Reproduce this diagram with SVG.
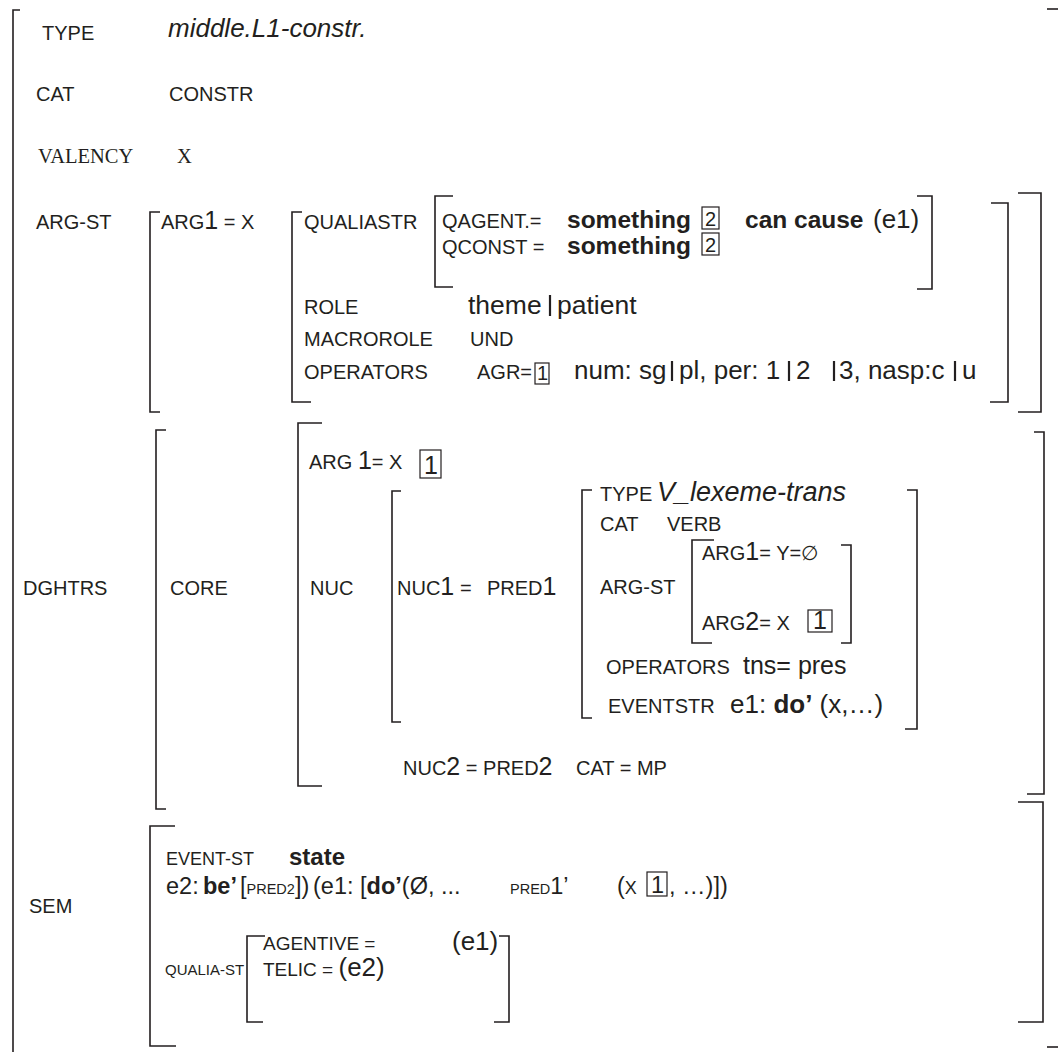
<svg xmlns="http://www.w3.org/2000/svg" width="1061" height="1052" viewBox="0 0 1061 1052">
<style>
text { font-family: "Liberation Sans", Arial, sans-serif; font-size: 20px; fill: #231f20; }
.serif { font-family: "Liberation Serif", "Times New Roman", serif; font-size: 20.5px; }
.i { font-style: italic; font-size: 26px; }
.b { font-weight: bold; font-size: 24.5px; }
.m { font-size: 25px; }
.l { font-size: 26px; }
.xl { font-size: 26.5px; }
.s { font-size: 18px; }
.sc { font-size: 14.5px; }
.e { font-size: 23.5px; }
.q { font-size: 19px; }
.br { fill: none; stroke: #231f20; stroke-width: 1.6; }
.bar { stroke: #231f20; stroke-width: 2.2; }
.box { fill: none; stroke: #231f20; stroke-width: 1.2; }
</style>
<rect width="1061" height="1052" fill="#ffffff"/>

<g id="brackets">
  <path class="br" d="M20,10 H13 V1052"/>
  <path class="br" d="M1047,9 H1058"/>
  <path class="br" d="M1047,1047 H1058"/>
  <path class="br" d="M160,212 H150 V412 H160"/>
  <path class="br" d="M1018,193 H1041 V412 H1018"/>
  <path class="br" d="M302,212 H292 V402 H311"/>
  <path class="br" d="M991,203 H1008 V402 H990"/>
  <path class="br" d="M453,196 H435 V287 H453"/>
  <path class="br" d="M917,196 H932 V289 H917"/>
  <path class="br" d="M166,430 H156 V809 H166"/>
  <path class="br" d="M1034,432 H1044 V794 H1027"/>
  <path class="br" d="M322,423 H298 V786 H322"/>
  <path class="br" d="M401,491 H392 V722 H401"/>
  <path class="br" d="M592,490 H582 V718 H592"/>
  <path class="br" d="M907,490 H917 V729 H905"/>
  <path class="br" d="M714,540 H692 V643 H712"/>
  <path class="br" d="M841,545 H851 V643 H841"/>
  <path class="br" d="M175,826 H150 V1046 H176"/>
  <path class="br" d="M1018,802 H1043 V1022 H1018"/>
  <path class="br" d="M265,936 H247 V1022 H263"/>
  <path class="br" d="M499,936 H509 V1022 H494"/>
</g>

<g id="type">
  <text x="42" y="40">TYPE</text>
  <text class="i" x="168" y="37">middle.L1-constr.</text>
</g>
<g id="cat">
  <text x="36" y="101">CAT</text>
  <text x="169" y="101">CONSTR</text>
</g>
<g id="valency">
  <text class="serif" x="38" y="163">VALENCY</text>
  <text class="serif" x="177" y="163">X</text>
</g>

<g id="arg-st">
  <text x="36" y="229">ARG-ST</text>
  <text x="161" y="229">ARG<tspan class="m">1</tspan> = X</text>
  <text x="304" y="229">QUALIASTR</text>
</g>
<g id="qualiastr">
  <text x="442" y="228">QAGENT.=</text>
  <text class="b" x="567" y="228">something</text>
  <rect class="box" x="702" y="207" width="17" height="22"/>
  <text x="705" y="226">2</text>
  <text class="b" x="745" y="228">can cause</text>
  <text class="l" x="873" y="228">(e1)</text>
  <text x="442" y="254">QCONST =</text>
  <text class="b" x="567" y="254">something</text>
  <rect class="box" x="702" y="233" width="17" height="22"/>
  <text x="705" y="252">2</text>
</g>
<g id="role">
  <text x="304" y="314">ROLE</text>
  <text class="xl" x="468" y="314">theme</text>
  <line class="bar" x1="550" y1="295" x2="550" y2="316"/>
  <text class="xl" x="557" y="314">patient</text>
</g>
<g id="macrorole">
  <text x="304" y="346">MACROROLE</text>
  <text x="470" y="346">UND</text>
</g>
<g id="operators">
  <text x="304" y="379">OPERATORS</text>
  <text x="477" y="379">AGR=</text>
  <rect class="box" x="535" y="363" width="14" height="21"/>
  <text x="537" y="380">1</text>
  <text class="l" x="574" y="379">num: sg</text>
  <line class="bar" x1="672" y1="361" x2="672" y2="381"/>
  <text class="l" x="679" y="379">pl, per: 1</text>
  <line class="bar" x1="789" y1="361" x2="789" y2="381"/>
  <text class="l" x="796" y="379">2</text>
  <line class="bar" x1="834" y1="361" x2="834" y2="381"/>
  <text class="l" x="839" y="379">3, nasp:c</text>
  <line class="bar" x1="955" y1="361" x2="955" y2="381"/>
  <text class="l" x="962" y="379">u</text>
</g>

<g id="dghtrs">
  <text x="23" y="595">DGHTRS</text>
</g>
<g id="core">
  <text x="170" y="595">CORE</text>
  <text x="309" y="469">ARG <tspan class="m">1</tspan>= X</text>
  <rect class="box" x="420" y="450" width="21" height="28"/>
  <text class="m" x="424" y="474">1</text>
</g>
<g id="nuc">
  <text x="310" y="595">NUC</text>
  <text x="397" y="595">NUC<tspan class="m">1</tspan><tspan x="460">=</tspan><tspan x="487">PRED</tspan><tspan class="m">1</tspan></text>
</g>
<g id="pred1">
  <text x="600" y="501">TYPE</text>
  <text class="i" x="657" y="501" style="font-size:27px">V_lexeme-trans</text>
  <text x="600" y="531">CAT</text>
  <text x="667" y="531">VERB</text>
  <text x="600" y="594">ARG-ST</text>
  <text x="702" y="560">ARG<tspan class="m">1</tspan>= Y=∅</text>
  <text x="702" y="630">ARG<tspan class="m">2</tspan>= X</text>
  <rect class="box" x="808" y="610" width="24" height="22"/>
  <text class="m" x="813" y="629">1</text>
  <text x="606" y="674">OPERATORS</text>
  <text class="m" x="743" y="674">tns= pres</text>
  <text x="608" y="713">EVENTSTR</text>
  <text class="l" x="730" y="713">e1: <tspan font-weight="bold">do’</tspan> (x,…)</text>
</g>
<g id="nuc2">
  <text x="403" y="775">NUC<tspan class="m">2</tspan> = PRED<tspan class="m">2</tspan></text>
  <text x="576" y="775">CAT = MP</text>
</g>

<g id="sem">
  <text x="29" y="913">SEM</text>
  <text class="s" x="166" y="865">EVENT-ST</text>
  <text class="b" x="289" y="865" style="font-size:24px">state</text>
  <text class="e" x="166" y="894">e2:<tspan x="203" font-weight="bold">be’</tspan><tspan x="240">[</tspan><tspan class="sc">PRED2</tspan>])<tspan x="313">(e1: [</tspan><tspan font-weight="bold">do’</tspan>(Ø, ...<tspan x="510" class="sc">PRED</tspan>1’<tspan x="617">(</tspan><tspan class="sc" style="font-size:18px">X</tspan></text>
  <rect class="box" x="647" y="872" width="20" height="24"/>
  <text class="e" x="651" y="893">1</text>
  <text class="e" x="669" y="894">, …)])</text>
</g>
<g id="qualia-st">
  <text class="s" x="165" y="975" style="font-size:15px">QUALIA-ST</text>
  <text class="q" x="263" y="950">AGENTIVE =</text>
  <text class="l" x="452" y="950">(e1)</text>
  <text class="q" x="263" y="976">TELIC = <tspan class="l">(e2)</tspan></text>
</g>
</svg>
